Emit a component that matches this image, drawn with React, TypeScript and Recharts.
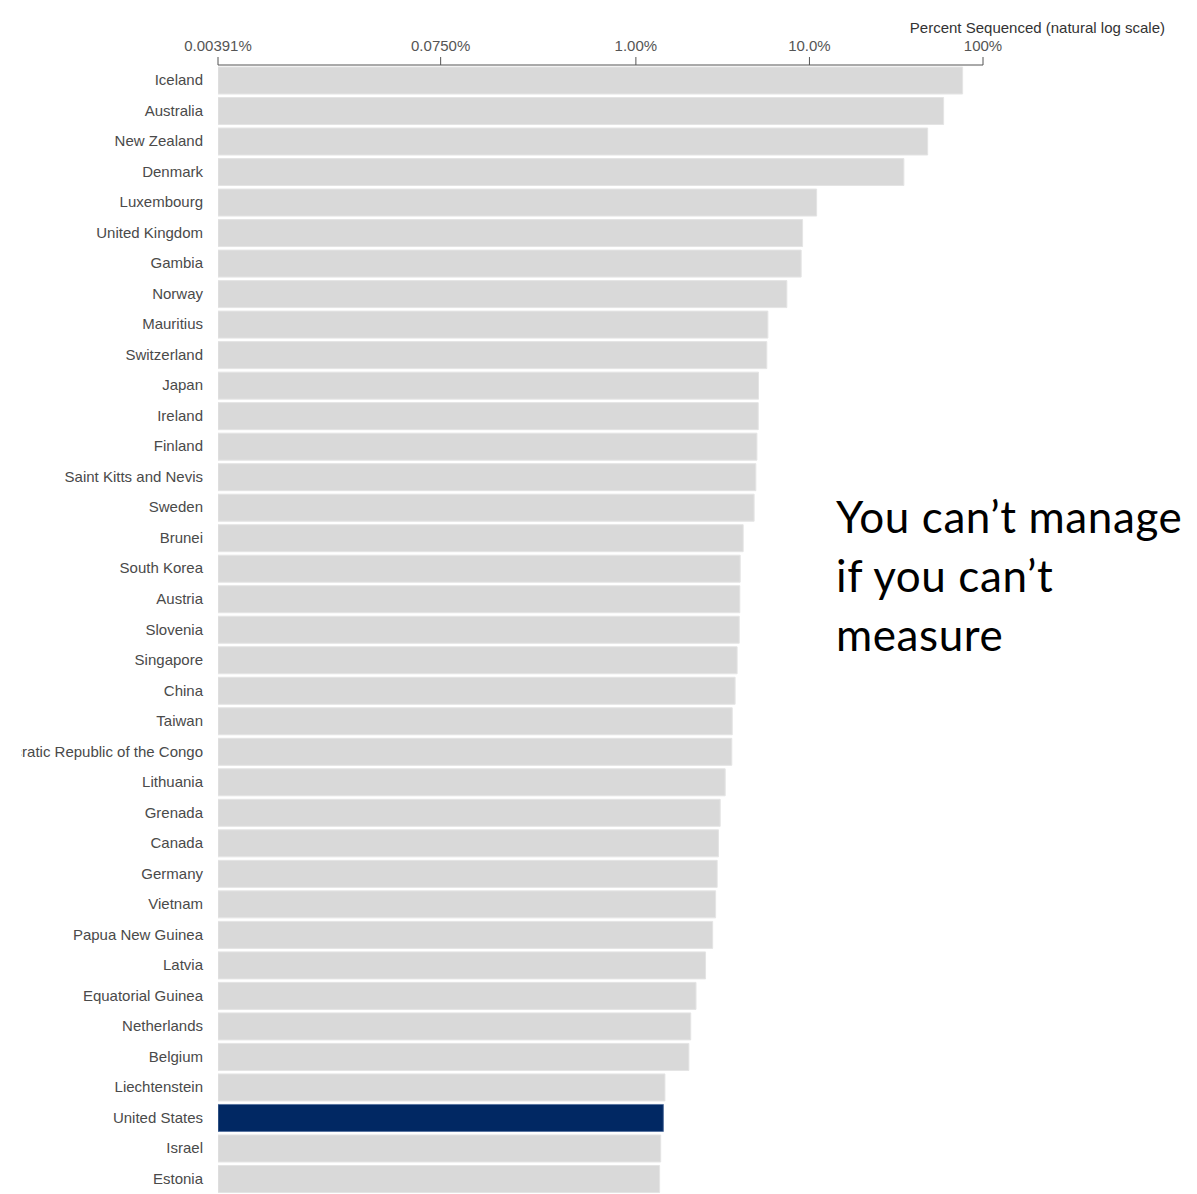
import { BarChart, Bar, XAxis, YAxis, Cell } from 'recharts';

const countries = [
  'Iceland', 'Australia', 'New Zealand', 'Denmark', 'Luxembourg', 'United Kingdom',
  'Gambia', 'Norway', 'Mauritius', 'Switzerland', 'Japan', 'Ireland', 'Finland',
  'Saint Kitts and Nevis', 'Sweden', 'Brunei', 'South Korea', 'Austria', 'Slovenia',
  'Singapore', 'China', 'Taiwan', 'Democratic Republic of the Congo', 'Lithuania',
  'Grenada', 'Canada', 'Germany', 'Vietnam', 'Papua New Guinea', 'Latvia',
  'Equatorial Guinea', 'Netherlands', 'Belgium', 'Liechtenstein', 'United States',
  'Israel', 'Estonia',
];

// percent of cases sequenced
const sequenced = [
  76.3, 59.3, 48.0, 35.0, 11.0, 9.13,
  8.96, 7.41, 5.76, 5.68, 5.09, 5.07, 4.98,
  4.91, 4.80, 4.15, 3.99, 3.97, 3.94,
  3.83, 3.73, 3.59, 3.57, 3.27,
  3.06, 2.99, 2.94, 2.88, 2.77, 2.52,
  2.22, 2.07, 2.02, 1.47, 1.44,
  1.39, 1.37,
];

const tickValues = [0.00391, 0.075, 1, 10, 100];
const tickLabels = ['0.00391%', '0.0750%', '1.00%', '10.0%', '100%'];

const highlight = 'United States';

const data = countries.map((country, i) => ({ country, value: sequenced[i] }));

const FONT = '"Liberation Sans", Arial, Helvetica, sans-serif';

// the long label is cut at the left edge, as in the source picture
function CountryTick(props: any) {
  const { x, y, payload, index } = props;
  const id = `lbl-clip-${index}`;
  return (
    <g>
      <clipPath id={id}>
        <rect x={21.5} y={y - 15} width={200} height={30} />
      </clipPath>
      <text
        x={x}
        y={y}
        dy={5}
        textAnchor="end"
        fontSize={15}
        fontFamily={FONT}
        fill="#4a4a4a"
        clipPath={`url(#${id})`}
      >
        {payload.value}
      </text>
    </g>
  );
}

export default function App() {
  return (
    <div style={{ position: 'absolute', left: 0, top: 0, width: 1197, height: 1194, background: '#fff' }}>
      <div
        style={{
          position: 'absolute',
          right: 32,
          top: 19,
          fontFamily: FONT,
          fontSize: 15,
          color: '#333',
          whiteSpace: 'nowrap',
        }}
      >
        Percent Sequenced (natural log scale)
      </div>
      <BarChart
        width={1197}
        height={1194}
        data={data}
        layout="vertical"
        margin={{ top: 35, right: 214, bottom: 0, left: 0 }}
        barCategoryGap={2}
      >
        <XAxis
          type="number"
          scale="log"
          domain={[0.00391, 100]}
          allowDataOverflow
          orientation="top"
          ticks={tickValues}
          interval={0}
          tickFormatter={(v: number) => tickLabels[tickValues.indexOf(v)] ?? ''}
          height={30}
          tickSize={8}
          tickMargin={6}
          stroke="#555"
          tick={{ fill: '#555', fontSize: 15, fontFamily: FONT }}
        />
        <YAxis
          type="category"
          dataKey="country"
          width={218}
          axisLine={false}
          tickLine={false}
          tickSize={6}
          tickMargin={9}
          interval={0}
          tick={<CountryTick />}
        />
        <Bar dataKey="value" barSize={27} isAnimationActive={false}>
          {data.map((d) => (
            <Cell
              key={d.country}
              fill={d.country === highlight ? '#012863' : '#d9d9d9'}
              stroke={d.country === highlight ? '#5a76a0' : '#e4e4e4'}
              strokeWidth={1}
            />
          ))}
        </Bar>
      </BarChart>
      <div
        style={{
          position: 'absolute',
          left: 836,
          top: 487,
          fontFamily: 'Lato, "Open Sans", sans-serif',
          fontSize: 44,
          letterSpacing: 0.6,
          lineHeight: '59px',
          color: '#000',
          whiteSpace: 'nowrap',
        }}
      >
        You can’t manage
        <br />
        if you can’t
        <br />
        measure
      </div>
    </div>
  );
}
